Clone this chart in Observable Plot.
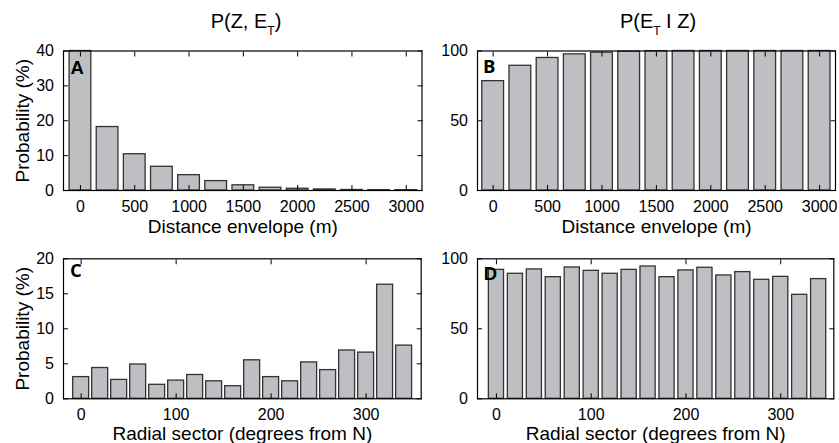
<!DOCTYPE html>
<html>
<head>
<meta charset="utf-8">
<script src="https://cdn.jsdelivr.net/npm/d3@7"></script>
<script src="https://cdn.jsdelivr.net/npm/@observablehq/plot@0.6"></script>
<style>
  html, body { margin: 0; padding: 0; background: #fff; }
  #wrap { position: relative; width: 839px; height: 443px; overflow: hidden; font-family: "Liberation Sans", Arial, Helvetica, sans-serif; color: #000; }
  .panel { position: absolute; }
  .panel svg { overflow: visible; }
  .title { position: absolute; top: 11px; width: 240px; text-align: center; font-size: 20px; line-height: 20px; white-space: nowrap; color: #000; }
  .title .sub { font-size: 12px; position: relative; top: 7px; color: #000; }
</style>
</head>
<body>
<div id="wrap">
  <div class="title" style="left:126px">P(Z, E<span class="sub">T</span>)</div>
  <div class="title" style="left:538px">P(E<span class="sub">T</span> I Z)</div>
</div>
<script>
// ---- data ----
const distances = [0, 250, 500, 750, 1000, 1250, 1500, 1750, 2000, 2250, 2500, 2750, 3000];
const probJoint = [40, 18.2, 10.4, 6.8, 4.4, 2.7, 1.5, 0.8, 0.5, 0.3, 0.15, 0.1, 0.1];
const probCond = [78.4, 89.4, 95, 97.6, 98.8, 99.6, 99.9, 100, 100, 100, 100, 100, 100];

const sectors = [0, 20, 40, 60, 80, 100, 120, 140, 160, 180, 200, 220, 240, 260, 280, 300, 320, 340];
const sectorJoint = [3.1, 4.4, 2.7, 4.9, 2.0, 2.6, 3.4, 2.5, 1.8, 5.5, 3.1, 2.5, 5.2, 4.1, 6.9, 6.6, 16.3, 7.6];
const sectorCond = [92.1, 89.3, 92.4, 86.9, 93.8, 91.4, 89.3, 92.1, 94.5, 86.9, 91.7, 93.6, 88.1, 90.5, 85.0, 87.1, 74.3, 85.5];

const distTicks = [0, 500, 1000, 1500, 2000, 2500, 3000];
const sectorTicks = [0, 100, 200, 300];
const yTicksA = [0, 10, 20, 30, 40];
const yTicksB = [0, 50, 100];
const yTicksC = [0, 5, 10, 15, 20];
const yTicksD = [0, 50, 100];

const xLabelDist = "Distance envelope (m)";
const xLabelSector = "Radial sector (degrees from N)";
const yLabel = "Probability (%)";

const plain = d => String(d);
const blank = () => "";

function panel(o) {
  const data = o.xs.map((x, i) => ({x, p: o.ys[i]}));
  const marks = [
    Plot.rectY(data, {x1: d => d.x - o.half, x2: d => d.x + o.half, y: "p",
      fill: "#bdbfc3", stroke: "#333", strokeWidth: 1.3}),
    Plot.frame({stroke: "#000", strokeWidth: 1.2}),
    Plot.axisX(o.xTicks, {anchor: "bottom", tickSize: -5, tickPadding: 15, fontSize: 16, tickFormat: plain, label: null}),
    Plot.axisX(o.xTicks, {anchor: "top", tickSize: -5, tickFormat: blank, label: null}),
    Plot.axisY(o.yTicks, {anchor: "left", tickSize: -5, tickPadding: 14.5, fontSize: 16, tickFormat: plain, label: null}),
    Plot.axisY(o.yTicks, {anchor: "right", tickSize: -5, tickFormat: blank, label: null}),
    Plot.text([o.xLabel], {frameAnchor: "bottom", dy: o.xLabelDy, lineAnchor: "bottom", textAnchor: "middle", fontSize: 19, fill: "#000"}),
    Plot.text([o.letter], {frameAnchor: "top-left", dx: o.letterDx, dy: o.letterDy, lineAnchor: "top", textAnchor: "start",
      fontSize: 18.5, fontWeight: "bold", fontFamily: o.letterFont, fill: "#000"})
  ];
  if (o.yLabel) {
    marks.push(Plot.text([o.yLabel], {frameAnchor: "left", dx: -41, rotate: -90, textAnchor: "middle", lineAnchor: "middle", fontSize: 19, fill: "#000"}));
  }
  const chart = Plot.plot({
    width: o.width, height: o.height,
    marginLeft: o.ml, marginRight: o.mr, marginTop: o.mt, marginBottom: o.mb,
    style: {fontFamily: '"Liberation Sans", Arial, Helvetica, sans-serif', color: "#000", background: "transparent", overflow: "visible"},
    x: {domain: o.xDomain, label: null},
    y: {domain: o.yDomain, label: null},
    marks
  });
  const div = document.createElement("div");
  div.className = "panel";
  div.style.left = o.left + "px";
  div.style.top = o.top + "px";
  div.appendChild(chart);
  document.getElementById("wrap").appendChild(div);
}

const helv = '"Liberation Sans", Arial, Helvetica, sans-serif';
const alt = '"Open Sans", "Liberation Sans", sans-serif';

panel({left: 0, top: 0, width: 425, height: 240, ml: 63, mr: 3.5, mt: 50.5, mb: 50,
  xs: distances, ys: probJoint, half: 100, xDomain: [-156, 3145], yDomain: [0, 40],
  xTicks: distTicks, yTicks: yTicksA, xLabel: xLabelDist, xLabelDy: 42.5, yLabel,
  letter: "A", letterDx: 7, letterDy: 9.5, letterFont: helv});

panel({left: 420, top: 0, width: 419, height: 240, ml: 57, mr: 4, mt: 50.5, mb: 50,
  xs: distances, ys: probCond, half: 100, xDomain: [-144, 3146], yDomain: [0, 100],
  xTicks: distTicks, yTicks: yTicksB, xLabel: xLabelDist, xLabelDy: 42.5,
  letter: "B", letterDx: 5.5, letterDy: 8.5, letterFont: alt});

panel({left: 0, top: 240, width: 425, height: 203, ml: 63, mr: 4.3, mt: 18.3, mb: 44.7,
  xs: sectors, ys: sectorJoint, half: 8.4, xDomain: [-18.6, 358], yDomain: [0, 20],
  xTicks: sectorTicks, yTicks: yTicksC, xLabel: xLabelSector, xLabelDy: 41, yLabel,
  letter: "C", letterDx: 6.5, letterDy: 5.5, letterFont: alt});

panel({left: 420, top: 240, width: 419, height: 203, ml: 57, mr: 5.7, mt: 18.3, mb: 44.7,
  xs: sectors, ys: sectorCond, half: 8, xDomain: [-20, 356], yDomain: [0, 100],
  xTicks: sectorTicks, yTicks: yTicksD, xLabel: xLabelSector, xLabelDy: 41,
  letter: "D", letterDx: 6.3, letterDy: 8.4, letterFont: helv});
</script>
</body>
</html>
